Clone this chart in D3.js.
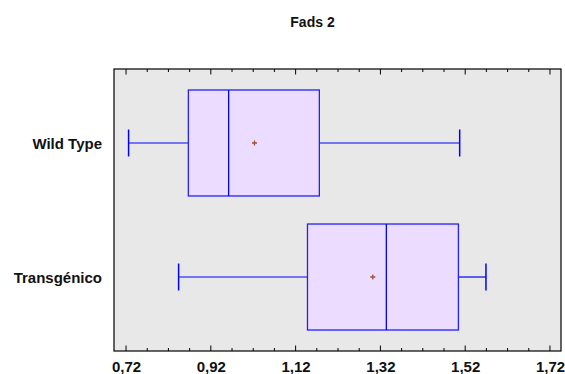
<!DOCTYPE html>
<html>
<head>
<meta charset="utf-8">
<script src="https://cdn.jsdelivr.net/npm/d3@7"></script>
<style>
  html, body { margin: 0; padding: 0; background: #ffffff; }
  svg { display: block; font-family: "Liberation Sans", Arial, sans-serif; }
</style>
</head>
<body>
<svg id="chart" width="565" height="374"></svg>
<script>
// Box-and-whisker summary of Fads 2 expression per group
const groups   = ["Wild Type", "Transgénico"];
const whiskLo  = [0.726, 0.844];
const q1       = [0.867, 1.148];
const median   = [0.962, 1.334];
const q3       = [1.176, 1.504];
const whiskHi  = [1.507, 1.569];
const means    = [1.023, 1.302];
const tickVals = [0.72, 0.92, 1.12, 1.32, 1.52, 1.72];

const rows = groups.map((g, i) => ({
  g, lo: whiskLo[i], q1: q1[i], med: median[i], q3: q3[i], hi: whiskHi[i], mean: means[i]
}));

const svg = d3.select("#chart");
const L = 114, R = 561, T = 69, B = 351;

const x = d3.scaleLinear().domain([0.6916, 1.746]).range([L, R]);
const y = d3.scalePoint().domain(groups).range([T, B]).padding(0.552);
const boxHalf = 53, capHalf = 13.5;

// plot area
svg.append("rect").attr("x", L).attr("y", T).attr("width", R - L).attr("height", B - T)
  .attr("fill", "#e8e8e8");

const g = svg.append("g");
rows.forEach(d => {
  const cy = y(d.g);
  // whiskers
  g.append("line").attr("x1", x(d.lo)).attr("x2", x(d.q1)).attr("y1", cy).attr("y2", cy)
    .attr("stroke", "#0000ff").attr("stroke-width", 1.2);
  g.append("line").attr("x1", x(d.q3)).attr("x2", x(d.hi)).attr("y1", cy).attr("y2", cy)
    .attr("stroke", "#0000ff").attr("stroke-width", 1.2);
  [d.lo, d.hi].forEach(v => g.append("line")
    .attr("x1", x(v)).attr("x2", x(v)).attr("y1", cy - capHalf).attr("y2", cy + capHalf)
    .attr("stroke", "#0000ff").attr("stroke-width", 1.5));
  // box
  g.append("rect").attr("x", x(d.q1)).attr("y", cy - boxHalf)
    .attr("width", x(d.q3) - x(d.q1)).attr("height", 2 * boxHalf)
    .attr("fill", "#ecdcff").attr("stroke", "#2222ff").attr("stroke-width", 1.3);
  // median
  g.append("line").attr("x1", x(d.med)).attr("x2", x(d.med))
    .attr("y1", cy - boxHalf).attr("y2", cy + boxHalf)
    .attr("stroke", "#0000ff").attr("stroke-width", 1.3);
  // mean marker
  const mx = x(d.mean);
  g.append("path").attr("d", `M${mx - 2.5},${cy}H${mx + 2.5}M${mx},${cy - 2.5}V${cy + 2.5}`)
    .attr("stroke", "#a0522d").attr("stroke-width", 1.3);
});

// minor / major ticks inside the frame, bottom and top
const minor = d3.range(0.72, 1.7201, 0.05).map(v => +v.toFixed(2));
minor.forEach(v => {
  const isMajor = tickVals.some(t => Math.abs(t - v) < 1e-6);
  const len = isMajor ? 5.5 : 3;
  svg.append("line").attr("x1", x(v)).attr("x2", x(v)).attr("y1", B).attr("y2", B - len)
    .attr("stroke", "#000").attr("stroke-width", 1);
  svg.append("line").attr("x1", x(v)).attr("x2", x(v)).attr("y1", T).attr("y2", T + len)
    .attr("stroke", "#000").attr("stroke-width", 1);
});

// frame
svg.append("rect").attr("x", L).attr("y", T).attr("width", R - L).attr("height", B - T)
  .attr("fill", "none").attr("stroke", "#000").attr("stroke-width", 1.2);

// x tick labels
svg.selectAll("text.xl").data(tickVals).enter().append("text")
  .attr("class", "xl")
  .attr("x", d => x(d) + 0.5).attr("y", 372.3)
  .attr("text-anchor", "middle")
  .attr("font-size", 15).attr("font-weight", "bold").attr("fill", "#111")
  .text(d => d3.format(".2f")(d).replace(".", ","));

// category labels
svg.selectAll("text.yl").data(groups).enter().append("text")
  .attr("class", "yl")
  .attr("x", 102).attr("y", d => y(d) + 6)
  .attr("text-anchor", "end")
  .attr("font-size", 15).attr("font-weight", "bold").attr("fill", "#111")
  .text(d => d);

// title
svg.append("text").attr("x", 312.5).attr("y", 26.5).attr("text-anchor", "middle")
  .attr("font-size", 14).attr("font-weight", "bold").attr("fill", "#111")
  .text("Fads 2");
</script>
</body>
</html>
